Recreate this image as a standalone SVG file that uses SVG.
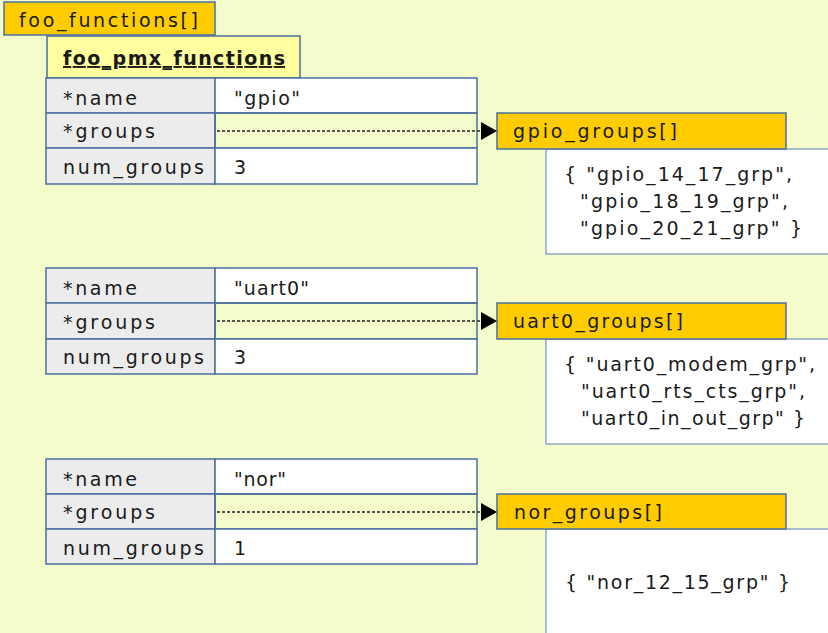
<svg xmlns="http://www.w3.org/2000/svg" width="828" height="633" viewBox="0 0 828 633">
<style>
  text { font-family: "DejaVu Sans", "Liberation Sans", sans-serif; font-size: 19px; fill: #1a1a1a; }
  .hdr { fill: #ffcc00; stroke: #4a6fa0; stroke-width: 1.5; }
  .key { fill: #ececec; stroke: #4a6fa0; stroke-width: 1.5; }
  .val { fill: #ffffff; stroke: #4a6fa0; stroke-width: 1.5; }
  .ptr { fill: none; stroke: #4a6fa0; stroke-width: 1.5; }
  .list { fill: #ffffff; stroke: #8fa8c8; stroke-width: 1.5; }
  .link { stroke: #222; stroke-width: 1.4; stroke-dasharray: 3 2; fill: none; }
</style>
<defs>
  <marker id="tri" markerWidth="16" markerHeight="18" refX="16" refY="9" orient="auto" markerUnits="userSpaceOnUse">
    <path d="M0,0 L16,9 L0,18 Z" fill="#000"/>
  </marker>
</defs>
<rect width="828" height="633" fill="#f4fccb"/>

<g id="foo_functions">
  <rect class="hdr" x="4" y="2" width="211" height="33"/>
  <text x="19" y="27" textLength="179" lengthAdjust="spacing">foo_functions[]</text>
</g>
<g id="foo_pmx_functions">
  <rect x="47" y="36" width="253" height="42" fill="#ffffa0" stroke="#4a6fa0" stroke-width="1.5"/>
  <text x="63" y="65" font-weight="bold" text-decoration="underline" textLength="222" lengthAdjust="spacing">foo_pmx_functions</text>
</g>

<g id="func_gpio">
  <rect class="key" x="46" y="78" width="169" height="35"/>
  <rect class="val" x="215" y="78" width="262" height="35"/>
  <rect class="key" x="46" y="113" width="169" height="35"/>
  <rect class="ptr" x="215" y="113" width="262" height="35"/>
  <rect class="key" x="46" y="148" width="169" height="36"/>
  <rect class="val" x="215" y="148" width="262" height="36"/>
  <text x="63" y="105" textLength="74" lengthAdjust="spacing">*name</text>
  <text x="234" y="105" textLength="66" lengthAdjust="spacing">"gpio"</text>
  <text x="63" y="138" textLength="92" lengthAdjust="spacing">*groups</text>
  <text x="63" y="174" textLength="141" lengthAdjust="spacing">num_groups</text>
  <text x="234" y="174">3</text>
</g>

<g id="func_uart0">
  <rect class="key" x="46" y="268" width="169" height="35"/>
  <rect class="val" x="215" y="268" width="262" height="35"/>
  <rect class="key" x="46" y="303" width="169" height="36"/>
  <rect class="ptr" x="215" y="303" width="262" height="36"/>
  <rect class="key" x="46" y="339" width="169" height="35"/>
  <rect class="val" x="215" y="339" width="262" height="35"/>
  <text x="63" y="295" textLength="74" lengthAdjust="spacing">*name</text>
  <text x="234" y="295" textLength="75" lengthAdjust="spacing">"uart0"</text>
  <text x="63" y="329" textLength="92" lengthAdjust="spacing">*groups</text>
  <text x="63" y="364" textLength="141" lengthAdjust="spacing">num_groups</text>
  <text x="234" y="364">3</text>
</g>

<g id="func_nor">
  <rect class="key" x="46" y="459" width="169" height="35"/>
  <rect class="val" x="215" y="459" width="262" height="35"/>
  <rect class="key" x="46" y="494" width="169" height="35"/>
  <rect class="ptr" x="215" y="494" width="262" height="35"/>
  <rect class="key" x="46" y="529" width="169" height="35"/>
  <rect class="val" x="215" y="529" width="262" height="35"/>
  <text x="63" y="486" textLength="74" lengthAdjust="spacing">*name</text>
  <text x="234" y="486" textLength="52" lengthAdjust="spacing">"nor"</text>
  <text x="63" y="519" textLength="92" lengthAdjust="spacing">*groups</text>
  <text x="63" y="555" textLength="141" lengthAdjust="spacing">num_groups</text>
  <text x="234" y="555">1</text>
</g>

<g id="gpio_groups">
  <rect class="list" x="546" y="149" width="290" height="105"/>
  <rect class="hdr" x="497" y="113" width="289" height="36"/>
  <text x="513" y="138" textLength="164" lengthAdjust="spacing">gpio_groups[]</text>
  <text x="564" y="181" textLength="228" lengthAdjust="spacing">{ "gpio_14_17_grp",</text>
  <text x="580" y="208" textLength="208" lengthAdjust="spacing">"gpio_18_19_grp",</text>
  <text x="580" y="235" textLength="222" lengthAdjust="spacing">"gpio_20_21_grp" }</text>
</g>

<g id="uart0_groups">
  <rect class="list" x="546" y="339" width="290" height="105"/>
  <rect class="hdr" x="497" y="303" width="289" height="36"/>
  <text x="513" y="328" textLength="170" lengthAdjust="spacing">uart0_groups[]</text>
  <text x="564" y="371" textLength="251" lengthAdjust="spacing">{ "uart0_modem_grp",</text>
  <text x="581" y="398" textLength="224" lengthAdjust="spacing">"uart0_rts_cts_grp",</text>
  <text x="581" y="425" textLength="224" lengthAdjust="spacing">"uart0_in_out_grp" }</text>
</g>

<g id="nor_groups">
  <rect class="list" x="546" y="529" width="290" height="110"/>
  <rect class="hdr" x="497" y="494" width="289" height="35"/>
  <text x="514" y="519" textLength="148" lengthAdjust="spacing">nor_groups[]</text>
  <text x="565" y="589" textLength="225" lengthAdjust="spacing">{ "nor_12_15_grp" }</text>
</g>

<g id="connectors">
  <line class="link" x1="217" y1="131" x2="497" y2="131" marker-end="url(#tri)"/>
  <line class="link" x1="217" y1="321" x2="497" y2="321" marker-end="url(#tri)"/>
  <line class="link" x1="217" y1="512" x2="497" y2="512" marker-end="url(#tri)"/>
</g>
</svg>
